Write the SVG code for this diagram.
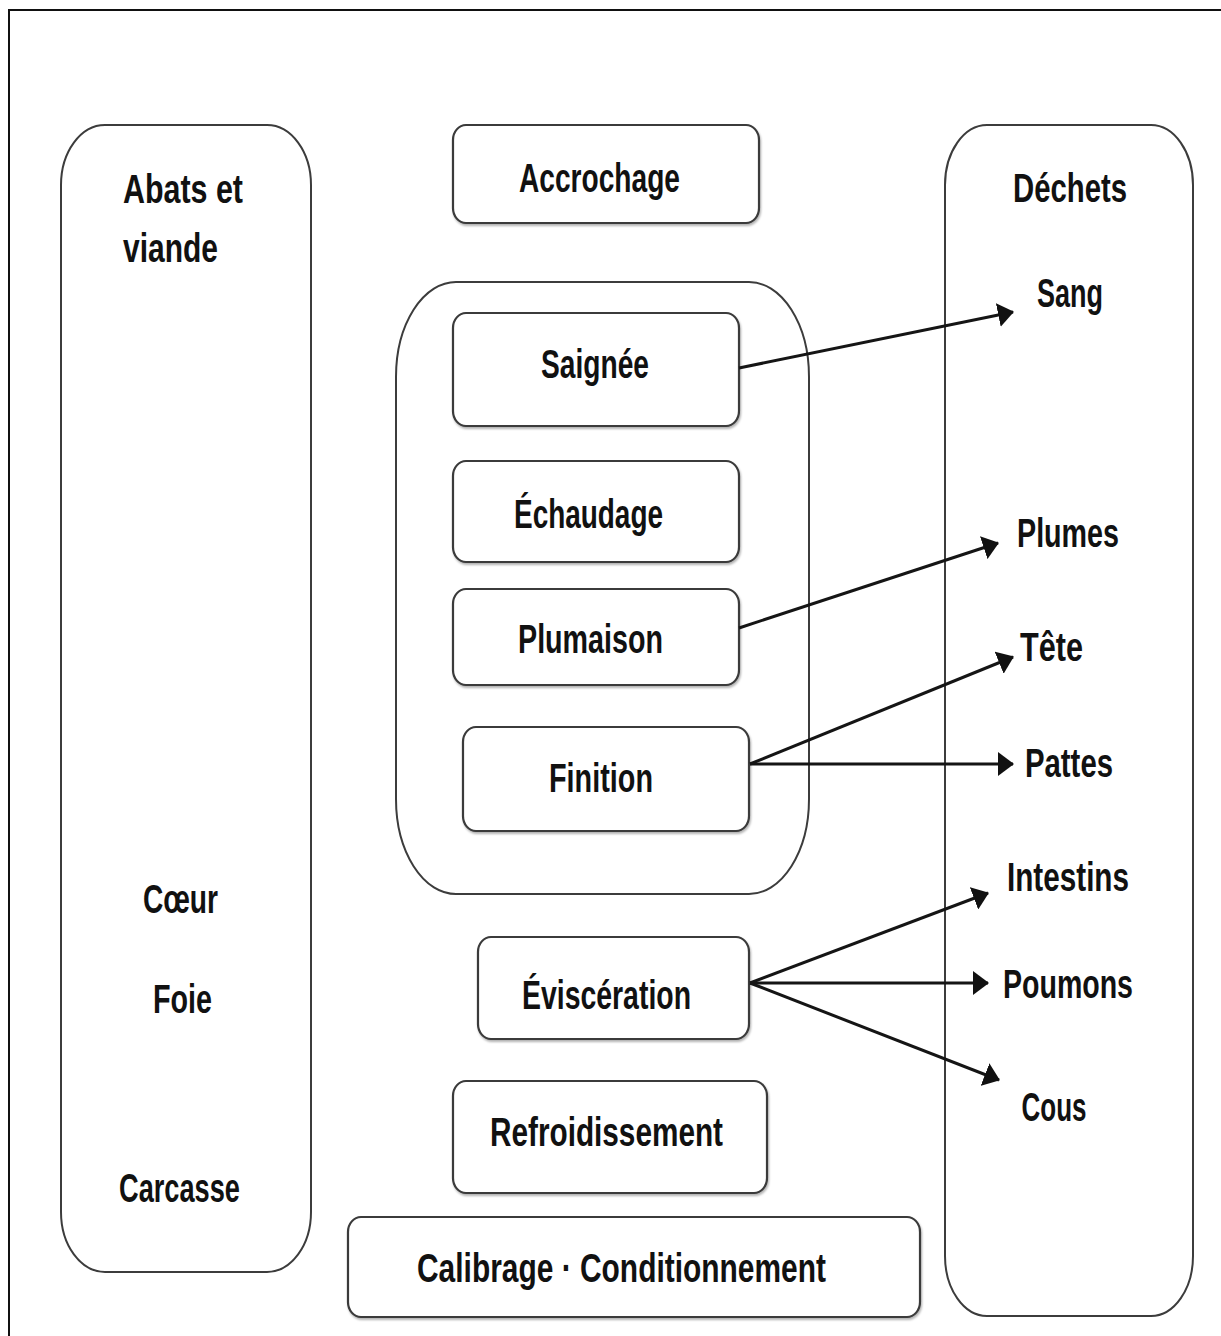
<svg xmlns="http://www.w3.org/2000/svg" width="1221" height="1336" viewBox="0 0 1221 1336">
  <style>
    .frame { fill: none; stroke: #111; stroke-width: 2; }
    .col { fill: #fff; stroke: #3c3c3c; stroke-width: 2; }
    .step { fill: #fff; stroke: #3a3a3a; stroke-width: 2.2; filter: url(#soft); }
    .lbl { font-family: "Liberation Sans", Arial, sans-serif; font-weight: bold; font-size: 41px; fill: #111; }
    .mid { text-anchor: middle; }
    .link { fill: none; stroke: #151515; stroke-width: 3; marker-end: url(#head); }
  </style>
  <defs>
    <filter id="soft" x="-5%" y="-10%" width="110%" height="130%">
      <feDropShadow dx="1" dy="2" stdDeviation="1.2" flood-color="#000" flood-opacity="0.3"/>
    </filter>
    <marker id="head" viewBox="0 0 16 24" refX="15" refY="12" markerWidth="16" markerHeight="24" markerUnits="userSpaceOnUse" orient="auto">
      <path d="M0,0 L16,12 L0,24 Z" fill="#111"/>
    </marker>
  </defs>

  <rect width="1221" height="1336" fill="#fff"/>
  <!-- page frame, open on the right and bottom -->
  <rect class="frame" x="9" y="10" width="1240" height="1360"/>

  <!-- by-products column -->
  <g id="abats">
    <rect class="col" x="61" y="125" width="250" height="1147" rx="44" ry="60"/>
    <text class="lbl" x="123" y="203" textLength="120" lengthAdjust="spacingAndGlyphs">Abats et</text>
    <text class="lbl" x="123" y="262" textLength="95" lengthAdjust="spacingAndGlyphs">viande</text>
    <text class="lbl mid" x="180.5" y="913" textLength="75" lengthAdjust="spacingAndGlyphs">Cœur</text>
    <text class="lbl mid" x="182.5" y="1013" textLength="59" lengthAdjust="spacingAndGlyphs">Foie</text>
    <text class="lbl mid" x="179.5" y="1202" textLength="121" lengthAdjust="spacingAndGlyphs">Carcasse</text>
  </g>

  <!-- waste column -->
  <g id="dechets">
    <rect class="col" x="945" y="125" width="248" height="1191" rx="42" ry="60"/>
    <text class="lbl mid" x="1070" y="202" textLength="114" lengthAdjust="spacingAndGlyphs">Déchets</text>
    <text class="lbl mid" x="1070" y="307" textLength="66" lengthAdjust="spacingAndGlyphs">Sang</text>
    <text class="lbl mid" x="1068" y="547" textLength="102" lengthAdjust="spacingAndGlyphs">Plumes</text>
    <text class="lbl mid" x="1051.5" y="661" textLength="63" lengthAdjust="spacingAndGlyphs">Tête</text>
    <text class="lbl mid" x="1069" y="777" textLength="88" lengthAdjust="spacingAndGlyphs">Pattes</text>
    <text class="lbl mid" x="1068" y="891" textLength="122" lengthAdjust="spacingAndGlyphs">Intestins</text>
    <text class="lbl mid" x="1068" y="998" textLength="130" lengthAdjust="spacingAndGlyphs">Poumons</text>
    <text class="lbl mid" x="1054" y="1121" textLength="65" lengthAdjust="spacingAndGlyphs">Cous</text>
  </g>

  <!-- slaughter line steps -->
  <g id="accrochage">
    <rect class="step" x="453" y="125" width="306" height="98" rx="13" ry="15"/>
    <text class="lbl mid" x="599.5" y="192" textLength="161" lengthAdjust="spacingAndGlyphs">Accrochage</text>
  </g>

  <g id="abattage">
    <rect class="col" x="396" y="282" width="413" height="612" rx="60" ry="95"/>
  </g>

  <g id="saignee">
    <rect class="step" x="453" y="313" width="286" height="113" rx="13" ry="15"/>
    <text class="lbl mid" x="595" y="378" textLength="108" lengthAdjust="spacingAndGlyphs">Saignée</text>
  </g>

  <g id="echaudage">
    <rect class="step" x="453" y="461" width="286" height="101" rx="13" ry="15"/>
    <text class="lbl mid" x="588.5" y="528" textLength="149" lengthAdjust="spacingAndGlyphs">Échaudage</text>
  </g>

  <g id="plumaison">
    <rect class="step" x="453" y="589" width="286" height="96" rx="13" ry="15"/>
    <text class="lbl mid" x="590.5" y="653" textLength="145" lengthAdjust="spacingAndGlyphs">Plumaison</text>
  </g>

  <g id="finition">
    <rect class="step" x="463" y="727" width="286" height="104" rx="13" ry="15"/>
    <text class="lbl mid" x="601" y="792" textLength="104" lengthAdjust="spacingAndGlyphs">Finition</text>
  </g>

  <g id="evisceration">
    <rect class="step" x="478" y="937" width="271" height="102" rx="13" ry="15"/>
    <text class="lbl mid" x="606.5" y="1009" textLength="169" lengthAdjust="spacingAndGlyphs">Éviscération</text>
  </g>

  <g id="refroidissement">
    <rect class="step" x="453" y="1081" width="314" height="112" rx="13" ry="15"/>
    <text class="lbl mid" x="606.5" y="1146" textLength="233" lengthAdjust="spacingAndGlyphs">Refroidissement</text>
  </g>

  <g id="calibrage">
    <rect class="step" x="348" y="1217" width="572" height="100" rx="13" ry="15"/>
    <text class="lbl mid" x="621.5" y="1282" textLength="409" lengthAdjust="spacingAndGlyphs">Calibrage · Conditionnement</text>
  </g>

  <!-- waste outputs -->
  <g id="connectors">
    <path class="link" d="M739,368 L1013,312"/>
    <path class="link" d="M739,628 L998,543"/>
    <path class="link" d="M750,764 L1013,657"/>
    <path class="link" d="M750,764 L1013,764"/>
    <path class="link" d="M750,983 L988,893"/>
    <path class="link" d="M750,983 L988,983"/>
    <path class="link" d="M750,983 L999,1080"/>
  </g>
</svg>
